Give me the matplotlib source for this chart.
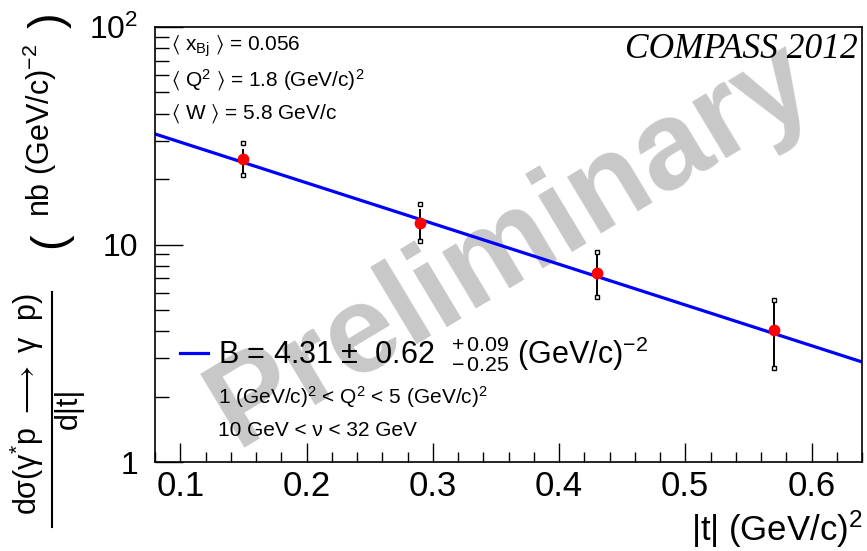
import matplotlib
matplotlib.use("Agg")
import matplotlib.pyplot as plt
import numpy as np
from matplotlib.ticker import FixedLocator, NullFormatter
from matplotlib.lines import Line2D

plt.rcParams['font.family'] = ['Liberation Sans', 'DejaVu Sans']
plt.rcParams['mathtext.fontset'] = 'custom'
plt.rcParams['mathtext.rm'] = 'Liberation Sans'
plt.rcParams['mathtext.it'] = 'Liberation Sans:italic'
plt.rcParams['mathtext.bf'] = 'Liberation Sans:bold'
plt.rcParams['mathtext.sf'] = 'Liberation Sans'
plt.rcParams['mathtext.default'] = 'regular'
plt.rcParams['mathtext.fallback'] = 'stixsans'

# ---- data ----
t_vals = [0.15, 0.29, 0.43, 0.57]
xsec = [24.6, 12.6, 7.42, 4.04]
stat_hi = [27.4, 14.6, 9.1, 5.37]
stat_lo = [21.2, 10.4, 5.75, 2.71]
tot_hi = [29.2, 15.4, 9.24, 5.56]
tot_lo = [20.9, 10.4, 5.74, 2.71]
fit_B = 4.31
fit_norm = 45.5
t_range = [0.08, 0.64]
x_major = [0.1, 0.2, 0.3, 0.4, 0.5, 0.6]
x_labels = ['0.1', '0.2', '0.3', '0.4', '0.5', '0.6']
y_major = [1, 10, 100]
y_labels = ['1', '10', '10$^{2}$']

W, H = 867, 551
fig = plt.figure(figsize=(W / 100, H / 100), dpi=100)
ax = fig.add_axes([155 / W, 89 / H, 707 / W, 435 / H])

def fx(px):
    return px / W

def fy(py):
    return 1 - py / H

# watermark
ax.text(0.505, 0.5, 'Preliminary', transform=ax.transAxes, rotation=31,
        ha='center', va='center', fontsize=90, fontweight='bold',
        color='#c8c8c8', zorder=0)

# fit line
tf = np.linspace(t_range[0], t_range[1], 50)
line, = ax.plot(tf, fit_norm * np.exp(-fit_B * tf), color='#0000ff', lw=2.3, zorder=2)

# error bars
t_arr = np.array(t_vals)
y_arr = np.array(xsec)
ax.vlines(t_arr, stat_lo, stat_hi, color='black', lw=1.4, zorder=3)
ax.plot(t_arr, tot_hi, ls='none', marker='s', ms=3.5, mfc='white', mec='black', mew=1, zorder=3)
ax.plot(t_arr, tot_lo, ls='none', marker='s', ms=3.5, mfc='white', mec='black', mew=1, zorder=3)
ax.plot(t_arr, y_arr, ls='none', marker='o', ms=7.5, color='red', mec='red', zorder=4)

ax.set_yscale('log')
ax.set_xlim(0.08, 0.64)
ax.set_ylim(1, 100)

ax.xaxis.set_major_locator(FixedLocator(x_major))
ax.set_xticklabels(x_labels)
ax.xaxis.set_minor_locator(FixedLocator(np.arange(0.08, 0.641, 0.02)))
ax.yaxis.set_major_locator(FixedLocator(y_major))
ax.set_yticklabels(y_labels)
yminor = [m * d for d in (1, 10) for m in range(2, 10)]
ax.yaxis.set_minor_locator(FixedLocator(yminor))
ax.yaxis.set_minor_formatter(NullFormatter())

ax.tick_params(axis='x', which='major', direction='in', length=14, width=1, labelsize=25, pad=6,
               top=False)
ax.tick_params(axis='x', which='minor', direction='in', length=7, width=1, top=False)
ax.tick_params(axis='y', which='major', direction='in', length=20, width=1, labelsize=23, pad=12,
               right=False)
ax.tick_params(axis='y', which='minor', direction='in', length=10, width=1, right=False)
for s in ax.spines.values():
    s.set_linewidth(1.2)

# axis labels
fig.text(fx(863), fy(541), '|t| (GeV/c)$^{2}$', ha='right', va='baseline', fontsize=25)
# y label: fraction drawn by hand
fig.text(fx(27), fy(404), r'dσ(γ$^{*}$p $\longrightarrow$ γ  p)', rotation=90,
         ha='center', va='center', fontsize=22)
fig.add_artist(Line2D([fx(52), fx(52)], [fy(292), fy(527)], transform=fig.transFigure,
                      color='black', lw=1.5))
fig.text(fx(69), fy(408), 'd|t|', rotation=90, ha='center', va='center', fontsize=22)
fig.text(fx(50), fy(240), '(', rotation=90, ha='center', va='center', fontsize=34)
fig.text(fx(40), fy(130), 'nb (GeV/c)$^{-2}$', rotation=90, ha='center', va='center', fontsize=22)
fig.text(fx(50), fy(20), ')', rotation=90, ha='center', va='center', fontsize=34)

# info text
fig.text(fx(858), fy(50), 'COMPASS 2012', family='Liberation Serif', style='italic',
         ha='right', va='center', fontsize=25.5)
fig.text(fx(171), fy(46), r'$\langle\ x_{Bj}\ \rangle$ = 0.056', ha='left', va='center', fontsize=15)
fig.text(fx(171), fy(80), r'$\langle\ Q^{2}\ \rangle$ = 1.8 (GeV/c)$^{2}$', ha='left', va='center', fontsize=15)
fig.text(fx(171), fy(114), r'$\langle\ W\ \rangle$ = 5.8 GeV/c', ha='left', va='center', fontsize=15)

leg = ax.legend([line], [r'B = 4.31 $\pm$  0.62  $^{+\,0.09}_{-\,0.25}$ (GeV/c)$^{-2}$'],
                loc='center left', bbox_to_anchor=(fx(180), fy(354)),
                bbox_transform=fig.transFigure, frameon=False, fontsize=22,
                borderpad=0, borderaxespad=0, handlelength=0.92, handletextpad=0.33)
fig.text(fx(218), fy(397), '1 (GeV/c)$^{2}$ < Q$^{2}$ < 5 (GeV/c)$^{2}$', ha='left', va='center', fontsize=15)
fig.text(fx(218), fy(430), '10 GeV < ν < 32 GeV', ha='left', va='center', fontsize=15)

fig.savefig('out.png', dpi=100)
